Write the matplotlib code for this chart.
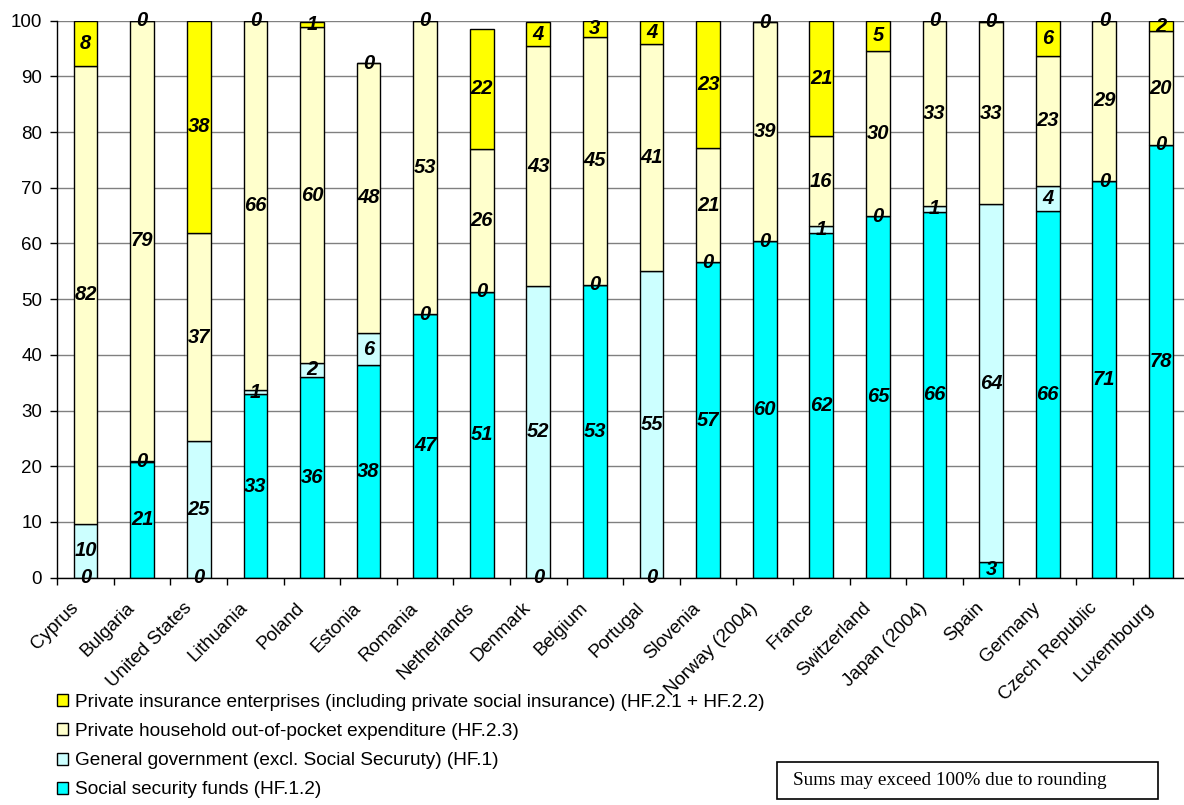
import numpy as np
import matplotlib
matplotlib.use("Agg")
import matplotlib.pyplot as plt
from matplotlib.patches import Rectangle
from matplotlib.transforms import ScaledTranslation

plt.rcParams['font.family'] = ['Liberation Sans', 'DejaVu Sans']

# share of total health expenditure by financing agent (%)
countries = ['Cyprus', 'Bulgaria', 'United States', 'Lithuania', 'Poland', 'Estonia',
             'Romania', 'Netherlands', 'Denmark', 'Belgium', 'Portugal', 'Slovenia',
             'Norway (2004)', 'France', 'Switzerland', 'Japan (2004)', 'Spain',
             'Germany', 'Czech Republic', 'Luxembourg']
social_security = [0, 20.8, 0, 32.9, 36.1, 38.1, 47.3, 51.3, 0, 52.6, 0, 56.6,
                   60.4, 61.8, 64.9, 65.7, 2.9, 65.9, 71.2, 77.7]
general_gov = [9.7, 0.2, 24.5, 0.8, 2.4, 5.9, 0, 0, 52.4, 0, 55.1, 0,
               0, 1.3, 0, 1.0, 64.1, 4.4, 0, 0]
out_of_pocket = [82.2, 79.0, 37.4, 66.3, 60.4, 48.4, 52.7, 25.7, 43.0, 44.5, 40.8, 20.6,
                 39.3, 16.2, 29.7, 33.3, 32.8, 23.4, 28.8, 20.4]
private_ins = [8.1, 0, 38.1, 0, 0.8, 0, 0, 21.5, 4.4, 2.9, 4.1, 22.8,
               0, 20.7, 5.4, 0, 0.2, 6.3, 0, 1.8]

series = [
    ('Social security funds (HF.1.2)', social_security, '#00FFFF'),
    ('General government (excl. Social Securuty) (HF.1)', general_gov, '#CCFFFF'),
    ('Private household out-of-pocket expenditure (HF.2.3)', out_of_pocket, '#FFFFCC'),
    ('Private insurance enterprises (including private social insurance) (HF.2.1 + HF.2.2)',
     private_ins, '#FFFF00'),
]

fig = plt.figure(figsize=(11.84, 8.05), dpi=100)
ax = fig.add_axes([0.0484, 0.2824, 0.956, 0.6919])

x = np.arange(len(countries))
bottom = np.zeros(len(countries))
handles = []
for name, vals, color in series:
    vals = np.array(vals, dtype=float)
    b = ax.bar(x, vals, 0.42, bottom=bottom, color=color, edgecolor='black',
               linewidth=1.0, label=name, zorder=2)
    handles.append(b)
    for xi, v, b0 in zip(x, vals, bottom):
        ax.text(xi, b0 + v / 2, str(int(np.floor(v + 0.5))), ha='center', va='center',
                fontsize=14.5, fontweight='bold', fontstyle='italic', zorder=3)
    bottom += vals

ax.set_xlim(-0.5, len(countries) - 0.5)
ax.set_ylim(0, 100)
ax.set_yticks(np.arange(0, 101, 10))
ax.yaxis.grid(True, color='#808080', linewidth=1.0, zorder=0)
ax.set_axisbelow(True)
for s in ['top', 'right']:
    ax.spines[s].set_visible(False)
for s in ['left', 'bottom']:
    ax.spines[s].set_linewidth(1.0)
    ax.spines[s].set_zorder(4)

ax.tick_params(axis='y', length=5, width=1, pad=6, labelsize=13.5)
ax.set_xticks(x)
ax.set_xticklabels(countries, rotation=45, ha='right', va='center',
                   rotation_mode='anchor', fontsize=13.5)
ax.tick_params(axis='x', which='major', length=0, pad=20)
ax.set_xticks(np.arange(-0.5, len(countries), 1), minor=True)
ax.tick_params(axis='x', which='minor', length=5, width=1)
shift = ScaledTranslation(-0.10, 0, fig.dpi_scale_trans)
for lab in ax.get_xticklabels():
    lab.set_transform(lab.get_transform() + shift)

fig.legend(handles[::-1], [h.get_label() for h in handles[::-1]],
           loc='upper left', bbox_to_anchor=(0.048, 0.138), frameon=False,
           fontsize=13.7, handlelength=0.6, handleheight=0.6, handletextpad=0.35,
           labelspacing=0.64, borderpad=0, borderaxespad=0)

fig.patches.append(Rectangle((0.6562, 0.0075), 0.3218, 0.046, transform=fig.transFigure,
                             facecolor='white', edgecolor='black', linewidth=1.2))
fig.text(0.670, 0.031, 'Sums may exceed 100% due to rounding', ha='left', va='center',
         fontsize=13.8, family=['Liberation Serif', 'DejaVu Serif'])

fig.savefig('out.png', dpi=100)
